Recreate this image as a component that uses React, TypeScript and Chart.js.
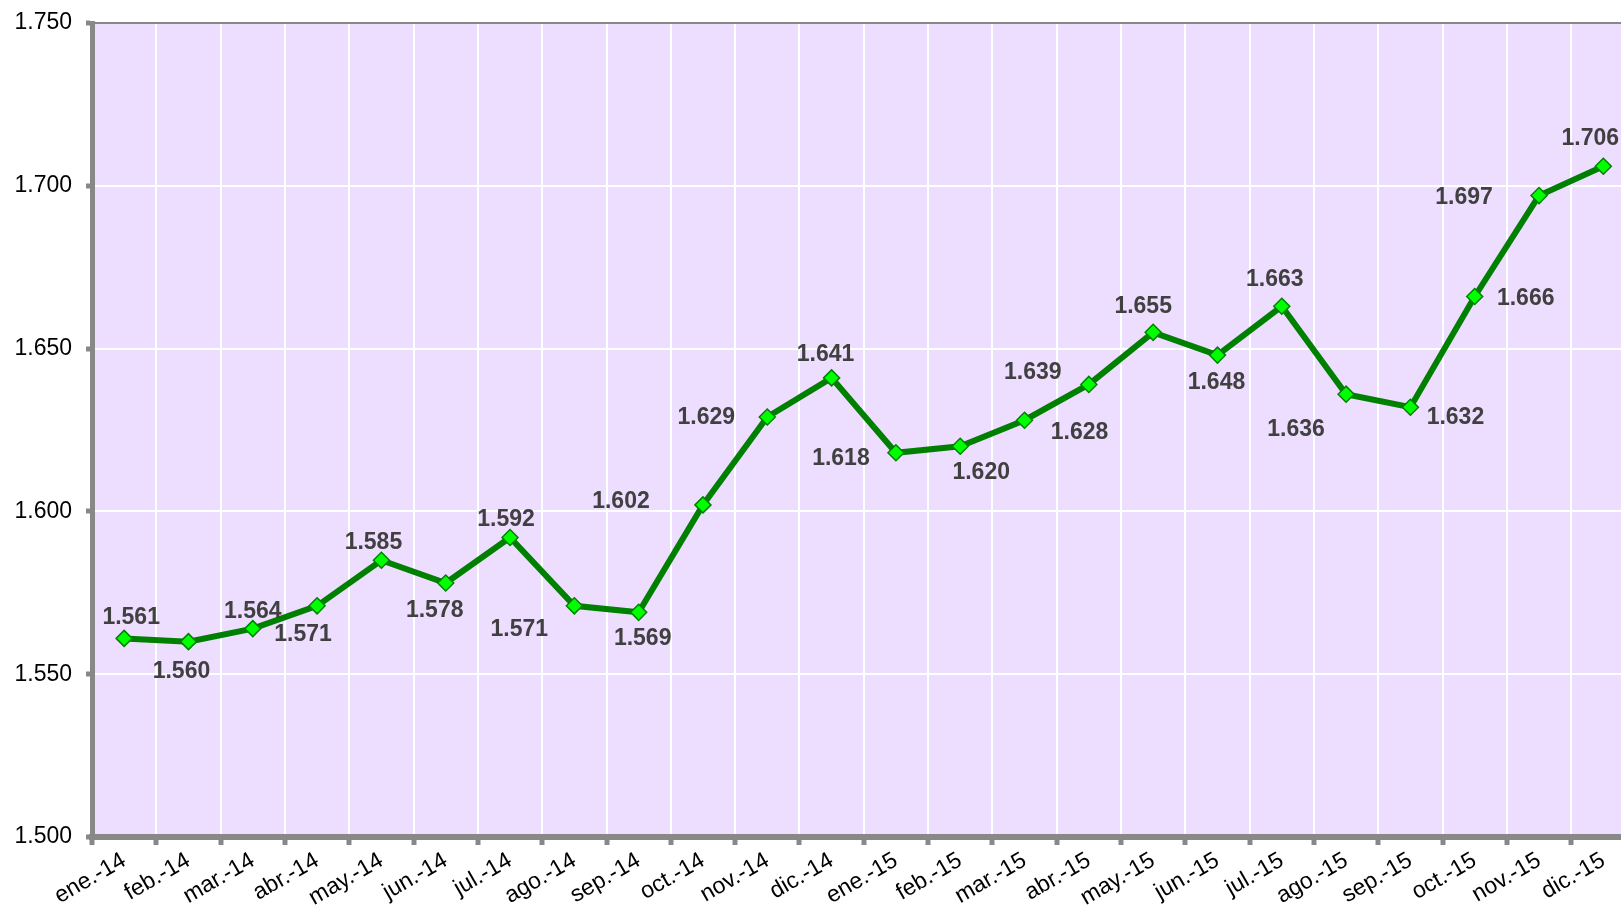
import React, { useEffect, useRef } from "react";
import { Chart, registerables } from "chart.js";

Chart.register(...registerables);

const months: string[] = [
  "ene.-14", "feb.-14", "mar.-14", "abr.-14", "may.-14", "jun.-14",
  "jul.-14", "ago.-14", "sep.-14", "oct.-14", "nov.-14", "dic.-14",
  "ene.-15", "feb.-15", "mar.-15", "abr.-15", "may.-15", "jun.-15",
  "jul.-15", "ago.-15", "sep.-15", "oct.-15", "nov.-15", "dic.-15",
];

const values: number[] = [
  1561, 1560, 1564, 1571, 1585, 1578, 1592, 1571, 1569, 1602, 1629, 1641,
  1618, 1620, 1628, 1639, 1655, 1648, 1663, 1636, 1632, 1666, 1697, 1706,
];

const yMin = 1500;
const yMax = 1750;
const yStep = 50;

// label offsets (dx, dy) relative to each point, in px
const labelOffsets: [number, number][] = [
  [7, -21], [-7, 30], [0, -17], [-14, 29], [-8, -18], [-11, 28],
  [-4, -18], [-55, 24], [4, 26], [-82, -3], [-61, 1], [-6, -23],
  [-55, 6], [21, 26], [55, 12], [-56, -12], [-10, -26], [-1, 28],
  [-7, -27], [-50, 35], [45, 10], [51, 2], [-75, 2], [-13, -28],
];

const fmt = (v: number): string => {
  const r = Math.round(v);
  return `${Math.floor(r / 1000)}.${String(r % 1000).padStart(3, "0")}`;
};

const FONT = "'Liberation Sans', Arial, Helvetica, sans-serif";

const bgPlugin = {
  id: "plotBg",
  beforeDraw(chart: any) {
    const { ctx, chartArea } = chart;
    ctx.save();
    ctx.fillStyle = "#EDDDFE";
    ctx.fillRect(chartArea.left, chartArea.top, chartArea.right - chartArea.left, chartArea.bottom - chartArea.top);
    ctx.restore();
  },
  afterDatasetsDraw(chart: any) {
    const { ctx, chartArea } = chart;
    ctx.save();
    ctx.strokeStyle = "#888888";
    ctx.lineWidth = 2;
    ctx.beginPath();
    ctx.moveTo(chartArea.left, chartArea.top);
    ctx.lineTo(chartArea.right, chartArea.top);
    ctx.stroke();
    ctx.restore();
  },
};

const labelPlugin = {
  id: "valueLabels",
  afterDatasetsDraw(chart: any) {
    const { ctx } = chart;
    const meta = chart.getDatasetMeta(0);
    ctx.save();
    ctx.font = `bold 23px ${FONT}`;
    ctx.fillStyle = "#404040";
    ctx.textAlign = "center";
    ctx.textBaseline = "middle";
    meta.data.forEach((pt: any, i: number) => {
      const [dx, dy] = labelOffsets[i];
      ctx.fillText(fmt(values[i]), pt.x + dx, pt.y + dy);
    });
    ctx.restore();
  },
};

export default function App() {
  const ref = useRef<HTMLCanvasElement | null>(null);

  useEffect(() => {
    if (!ref.current) return;
    const chart = new Chart(ref.current, {
      type: "line",
      data: {
        labels: months,
        datasets: [
          {
            data: values,
            borderColor: "#008000",
            borderWidth: 6,
            pointStyle: "rectRot",
            pointRadius: 8,
            pointBackgroundColor: "#00FF00",
            pointBorderColor: "#008000",
            pointBorderWidth: 1.5,
            tension: 0,
            fill: false,
          },
        ],
      },
      options: {
        responsive: false,
        animation: false,
        layout: { padding: { top: 23, right: 7, left: 0, bottom: 0 } },
        plugins: {
          legend: { display: false },
          tooltip: { enabled: false },
        },
        scales: {
          x: {
            offset: true,
            grid: {
              offset: true,
              color: "#FFFFFF",
              lineWidth: 2,
              drawTicks: true,
              tickLength: 8,
              tickColor: "#888888",
              tickWidth: 5,
            },
            border: { display: true, color: "#888888", width: 6 },
            ticks: {
              autoSkip: false,
              minRotation: 30,
              maxRotation: 30,
              padding: 2,
              color: "#000000",
              font: { family: FONT, size: 23 },
            },
            afterFit: (scale: any) => {
              scale.height = 70;
            },
          },
          y: {
            min: yMin,
            max: yMax,
            grid: {
              color: "#FFFFFF",
              lineWidth: 2,
              drawTicks: true,
              tickLength: 6,
              tickColor: "#888888",
              tickWidth: 5,
            },
            border: { display: true, color: "#888888", width: 5 },
            ticks: {
              stepSize: yStep,
              padding: 14,
              color: "#000000",
              font: { family: FONT, size: 23 },
              callback: (v: any) => fmt(Number(v)),
            },
            afterFit: (scale: any) => {
              scale.width = 92;
              scale.paddingTop = 0;
              scale.paddingBottom = 0;
            },
          },
        },
      },
      plugins: [bgPlugin, labelPlugin],
    });
    return () => chart.destroy();
  }, []);

  return (
    <div style={{ position: "fixed", left: 0, top: 0, width: 1621, height: 907, overflow: "hidden", background: "#fff" }}>
      <canvas ref={ref} width={1645} height={907} style={{ display: "block" }} />
    </div>
  );
}
